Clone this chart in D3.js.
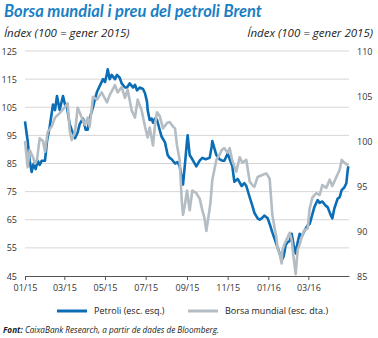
<!DOCTYPE html>
<html><head><meta charset="utf-8">
<script src="https://cdn.jsdelivr.net/npm/d3@7"></script>
<style>body{margin:0;background:#fff}svg{display:block}</style>
</head><body><svg id="c" width="378" height="338"></svg>
<script>
const brentDates = ["2015-01-01","2015-01-05","2015-01-08","2015-01-11","2015-01-14","2015-01-17","2015-01-20","2015-01-23","2015-01-26","2015-01-31","2015-02-03","2015-02-07","2015-02-12","2015-02-15","2015-02-18","2015-02-22","2015-02-27","2015-03-02","2015-03-05","2015-03-09","2015-03-12","2015-03-17","2015-03-21","2015-03-24","2015-03-29","2015-04-02","2015-04-05","2015-04-08","2015-04-13","2015-04-16","2015-04-19","2015-04-23","2015-04-28","2015-05-01","2015-05-04","2015-05-05","2015-05-08","2015-05-11","2015-05-16","2015-05-19","2015-05-23","2015-05-26","2015-05-31","2015-06-03","2015-06-07","2015-06-12","2015-06-15","2015-06-18","2015-06-22","2015-06-27","2015-06-30","2015-07-03","2015-07-04","2015-07-07","2015-07-10","2015-07-12","2015-07-15","2015-07-18","2015-07-22","2015-07-25","2015-07-30","2015-08-03","2015-08-06","2015-08-09","2015-08-14","2015-08-18","2015-08-21","2015-08-24","2015-08-26","2015-08-29","2015-09-01","2015-09-02","2015-09-05","2015-09-09","2015-09-15","2015-09-20","2015-09-24","2015-09-29","2015-10-05","2015-10-08","2015-10-09","2015-10-12","2015-10-15","2015-10-20","2015-10-24","2015-10-27","2015-11-01","2015-11-05","2015-11-08","2015-11-11","2015-11-16","2015-11-22","2015-11-26","2015-11-29","2015-12-04","2015-12-08","2015-12-11","2015-12-16","2015-12-19","2015-12-22","2015-12-26","2015-12-31","2016-01-03","2016-01-07","2016-01-10","2016-01-15","2016-01-18","2016-01-21","2016-01-24","2016-01-27","2016-01-30","2016-02-02","2016-02-05","2016-02-08","2016-02-11","2016-02-14","2016-02-17","2016-02-20","2016-02-24","2016-02-29","2016-03-03","2016-03-06","2016-03-10","2016-03-15","2016-03-18","2016-03-22","2016-03-27","2016-03-30","2016-04-03","2016-04-06","2016-04-09","2016-04-14","2016-04-17","2016-04-20","2016-04-24","2016-04-27","2016-04-29","2016-04-30"];
const brentValues = [100,93,86,82,85,83,86,84.5,86,86,93,98,106,104,109,104,109,106,105,99,97,94,96,99,101,97,97,101,105,108,110.5,112.5,115,114,117,118.5,115,116.5,115,116.5,115.5,113.5,112,112,113.5,112,113,111,112,111.5,110,107,104,100.5,101,99.5,101,100.5,97,94.5,92.5,88,87,86.5,85,85.5,84,80,77.5,85,93,95,88,86.5,84,86,87,86.5,87,91,93,90.5,88,86.5,86,86,88.5,86,84,78.5,79.5,77,78,77,73,70,67.5,65.5,65,65.5,66.5,65.5,63.5,60.5,58.5,55,53,50.5,52,56,57,57.5,60,56,53,57,60,59,61,63,63.5,66,69.5,72,71,71.5,70,69.5,67,65.5,69,72.5,73,75.5,76.5,78,82.5,84];

const borsaDates = ["2015-01-01","2015-01-05","2015-01-08","2015-01-13","2015-01-16","2015-01-19","2015-01-23","2015-01-28","2015-01-31","2015-02-04","2015-02-10","2015-02-15","2015-02-22","2015-03-02","2015-03-06","2015-03-09","2015-03-12","2015-03-17","2015-03-21","2015-03-27","2015-04-01","2015-04-05","2015-04-08","2015-04-13","2015-04-19","2015-04-26","2015-05-04","2015-05-08","2015-05-16","2015-05-20","2015-05-26","2015-05-31","2015-06-04","2015-06-10","2015-06-15","2015-06-19","2015-06-25","2015-06-30","2015-07-04","2015-07-07","2015-07-12","2015-07-15","2015-07-18","2015-07-22","2015-07-27","2015-08-02","2015-08-06","2015-08-11","2015-08-14","2015-08-17","2015-08-21","2015-08-24","2015-08-26","2015-08-29","2015-09-01","2015-09-05","2015-09-09","2015-09-15","2015-09-20","2015-09-24","2015-09-27","2015-09-30","2015-10-03","2015-10-06","2015-10-09","2015-10-15","2015-10-20","2015-10-23","2015-10-27","2015-11-01","2015-11-04","2015-11-08","2015-11-14","2015-11-19","2015-11-23","2015-11-29","2015-12-04","2015-12-08","2015-12-11","2015-12-16","2015-12-22","2015-12-29","2016-01-03","2016-01-07","2016-01-10","2016-01-13","2016-01-15","2016-01-18","2016-01-21","2016-01-22","2016-01-25","2016-01-28","2016-02-02","2016-02-05","2016-02-08","2016-02-11","2016-02-14","2016-02-17","2016-02-20","2016-02-24","2016-02-29","2016-03-03","2016-03-07","2016-03-13","2016-03-18","2016-03-22","2016-03-28","2016-04-02","2016-04-06","2016-04-12","2016-04-17","2016-04-20","2016-04-24","2016-04-30"];
const borsaValues = [100,97.1,99,98.2,97.5,97.9,100.3,100,98.8,101,101.6,102.6,103.1,103.8,104.2,101.2,100.1,101,103.7,102.6,101.8,102.6,101.6,104.9,104.6,105.4,104.3,105.1,106.2,105.4,106,104.8,105.7,103.4,102.6,104.6,103.4,101.6,100.4,101.5,99.5,101.8,103.2,102.8,101.4,102,102.1,101.6,101.4,99.5,97.9,93.5,91.8,93,94.5,92.3,94.5,94.2,93.6,92.3,91.5,90,91.5,93,95.7,97.9,98.5,99,99.2,98.7,99.2,97.8,96.6,98.2,97.6,97.9,95.5,95.1,94.9,96,96.2,96.4,95.8,91.8,90.5,89.3,88,87.5,86.4,87.8,88.5,89,89.8,89,87,85.2,87.9,88.5,89.3,90.1,90.3,92.5,93.7,94.2,94,95.1,94.8,95.7,95,96,96.8,97.9,97.6,97.3];

const leftTicks = [45,55,65,75,85,95,105,115,125];
const rightTicks = [85,90,95,100,105,110];
const xTickLabels = ["01/15","03/15","05/15","07/15","09/15","11/15","01/16","03/16"];

const title = "Borsa mundial i preu del petroli Brent";
const unitLabel = "Índex (100 = gener 2015)";
const seriesNames = ["Petroli (esc. esq.)","Borsa mundial (esc. dta.)"];
const colors = ["#0a6db5","#b3bdc3"];

const parse = d3.timeParse("%Y-%m-%d");
const svg = d3.select("#c");
const font = "'Open Sans', sans-serif";

const x = d3.scaleTime().domain([parse("2015-01-01"), parse("2016-05-01")]).range([25, 349]);
const yL = d3.scaleLinear().domain([45,125]).range([276,51]);
const yR = d3.scaleLinear().domain([85,110]).range([276,51]);

// title
svg.append("text").attr("x",4).attr("y",17).text(title)
  .attr("font-family","Lato, sans-serif").attr("font-weight","bold").attr("font-style","italic")
  .attr("font-size",16.5).attr("fill","#1b7fc4");
svg.append("text").attr("x",4).attr("y",37).text(unitLabel)
  .attr("font-family",font).attr("font-style","italic").attr("font-size",11.5).attr("fill","#222");
svg.append("text").attr("x",373).attr("y",37).attr("text-anchor","end").text(unitLabel)
  .attr("font-family",font).attr("font-style","italic").attr("font-size",11.5).attr("fill","#222");

// grid
svg.append("g").selectAll("line").data(leftTicks.filter(d=>d>45)).join("line")
  .attr("x1",25).attr("x2",349).attr("y1",d=>yL(d)).attr("y2",d=>yL(d))
  .attr("stroke","#d6d6d6").attr("stroke-width",1);

// left labels
svg.append("g").selectAll("text").data(leftTicks).join("text")
  .attr("x",17).attr("y",d=>yL(d)+3.5).attr("text-anchor","end").text(d=>d)
  .attr("font-family",font).attr("font-size",9).attr("fill","#333");
// right labels
svg.append("g").selectAll("text").data(rightTicks).join("text")
  .attr("x",357).attr("y",d=>yR(d)+3.5).attr("text-anchor","start").text(d=>d)
  .attr("font-family",font).attr("font-size",9).attr("fill","#333");

// x axis
const tickDates = xTickLabels.map(s=>{const [m,y]=s.split("/");return new Date(2000+ +y, +m-1, 1);});
const xAxis = d3.axisBottom(x).tickValues(tickDates).tickFormat((d,i)=>xTickLabels[i]).tickSize(4).tickSizeOuter(0);
const gx = svg.append("g").attr("transform","translate(0,276)").call(xAxis);
gx.select(".domain").attr("stroke","#555");
gx.selectAll(".tick line").attr("stroke","#555");
gx.selectAll("text").attr("font-family",font).attr("font-size",9).attr("fill","#333").attr("dy","0.9em");

// lines
const brent = brentDates.map((d,i)=>({d:parse(d),v:brentValues[i]}));
const borsa = borsaDates.map((d,i)=>({d:parse(d),v:borsaValues[i]}));
svg.append("path").datum(brent).attr("fill","none").attr("stroke",colors[0]).attr("stroke-width",2.6)
  .attr("stroke-linejoin","round").attr("d",d3.line().x(p=>x(p.d)).y(p=>yL(p.v)));
svg.append("path").datum(borsa).attr("fill","none").attr("stroke",colors[1]).attr("stroke-width",2.6)
  .attr("stroke-linejoin","round").attr("d",d3.line().x(p=>x(p.d)).y(p=>yR(p.v)));

// legend
const lg = svg.append("g");
[[57,94],[188,225]].forEach((p,i)=>{
  lg.append("line").attr("x1",p[0]).attr("x2",p[0]+30).attr("y1",311).attr("y2",311)
    .attr("stroke",colors[i]).attr("stroke-width",3);
  lg.append("text").attr("x",p[1]).attr("y",314).text(seriesNames[i])
    .attr("font-family",font).attr("font-size",9).attr("fill","#222");
});

// source
const src = svg.append("text").attr("x",3).attr("y",333).attr("font-family",font).attr("font-size",8.2).attr("font-style","italic").attr("fill","#222");
src.append("tspan").attr("font-weight","bold").text("Font: ");
src.append("tspan").text("CaixaBank Research, a partir de dades de Bloomberg.");
</script></body></html>
